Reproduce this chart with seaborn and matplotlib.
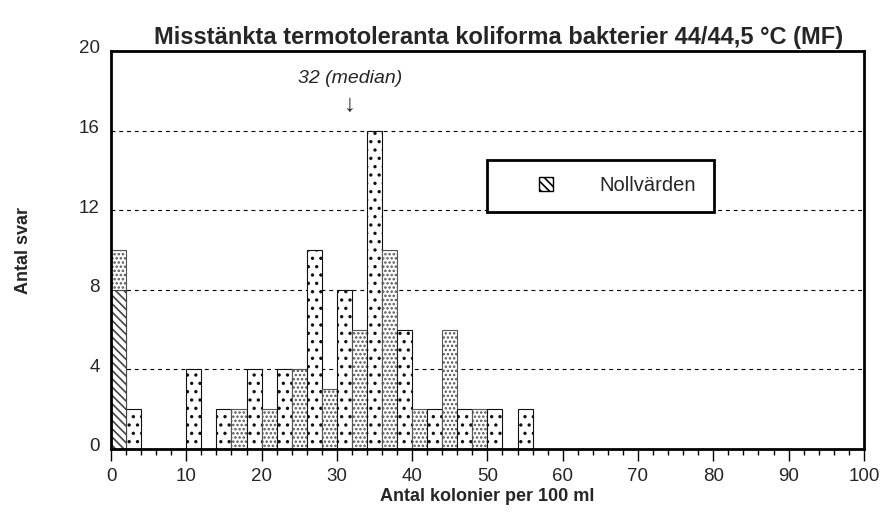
import numpy as np
import pandas as pd
import matplotlib.pyplot as plt
import matplotlib.transforms as mtransforms
import seaborn as sns
from matplotlib.patches import Patch, Rectangle

# data: histogram with 2-unit bins, counts
bin_left = [0, 2, 4, 6, 8, 10, 12, 14, 16, 18, 20, 22, 24, 26, 28,
            30, 32, 34, 36, 38, 40, 42, 44, 46, 48, 50, 52, 54]
counts = [10, 2, 0, 0, 0, 4, 0, 2, 2, 4, 2, 4, 4, 10, 3,
          8, 6, 16, 10, 6, 2, 2, 6, 2, 2, 2, 0, 2]
zero_values = 8
median = 32

sns.set_theme(style="white")
plt.rcParams['font.family'] = ['Liberation Sans', 'DejaVu Sans']
plt.rcParams['hatch.linewidth'] = 1.2

df = pd.DataFrame({'center': np.array(bin_left) + 1, 'count': counts})

fig = plt.figure(figsize=(8.86, 5.19), dpi=100)
ax = fig.add_axes([0.1253, 0.1349, 0.8497, 0.7668])

sns.histplot(data=df, x='center', weights='count', binwidth=2, binrange=(0, 56),
             ax=ax, color='white', edgecolor='#444444', linewidth=0.8, alpha=1)

# alternating dotted fills
for i, p in enumerate(ax.patches):
    p.set_hatch('..' if i % 2 else '....')
    p.set_edgecolor('#555555' if i % 2 == 0 else '#111111')

# zero values in the first bin
ax.bar(1, zero_values, width=2, color='white', edgecolor='#444444',
       hatch='\\\\\\\\', linewidth=0.8)

ax.set_xlim(0, 100)
ax.set_ylim(0, 20)
ax.set_xticks(range(0, 101, 10))
ax.set_xticks(range(0, 101, 2), minor=True)
ax.set_yticks(range(0, 21, 4))
for y in [4, 8, 12, 16]:
    ax.axhline(y, color='black', linestyle=(0, (3.5, 3.5)), linewidth=0.8, zorder=0)

for s in ax.spines.values():
    s.set_color('black')
    s.set_linewidth(2)

ax.tick_params(axis='x', which='major', direction='out', length=8.5, width=1,
               color='black', bottom=True, labelsize=13.5, pad=5)
ax.tick_params(axis='x', which='minor', direction='out', length=4, width=1,
               color='black', bottom=True)
ax.tick_params(axis='y', which='major', length=0, labelsize=13.5, pad=8)
shift = mtransforms.ScaledTranslation(0, 3 / 72, fig.dpi_scale_trans)
for lab in ax.get_yticklabels():
    lab.set_transform(lab.get_transform() + shift)

ax.set_xlabel('Antal kolonier per 100 ml', fontsize=13, fontweight='bold', labelpad=2)
ax.set_ylabel('Antal svar', fontsize=13, fontweight='bold', labelpad=34)
ax.set_title('Misstänkta termotoleranta koliforma bakterier 44/44,5 °C (MF)',
             fontsize=17, fontweight='bold', pad=5, x=0.515)

ax.text(median - 0.3, 18.6, '32 (median)', style='italic', fontsize=14,
        ha='center', va='center')
ax.text(median - 0.3, 17.3, '↓', fontsize=17, ha='center', va='center')

# legend box
ax.add_patch(Rectangle((0.4993, 0.5955), 0.3015, 0.1307, transform=ax.transAxes,
                       facecolor='white', edgecolor='black', linewidth=2, zorder=4))
leg = ax.legend(handles=[Patch(facecolor='white', edgecolor='black',
                               hatch='\\\\\\\\', label='Nollvärden')],
                loc='center left', bbox_to_anchor=(0.569, 0.661),
                frameon=False, fontsize=14.5,
                handlelength=0.7, handleheight=0.7, handletextpad=2.3,
                borderpad=0, borderaxespad=0)
leg.set_zorder(5)

fig.savefig('out.png', dpi=100)
